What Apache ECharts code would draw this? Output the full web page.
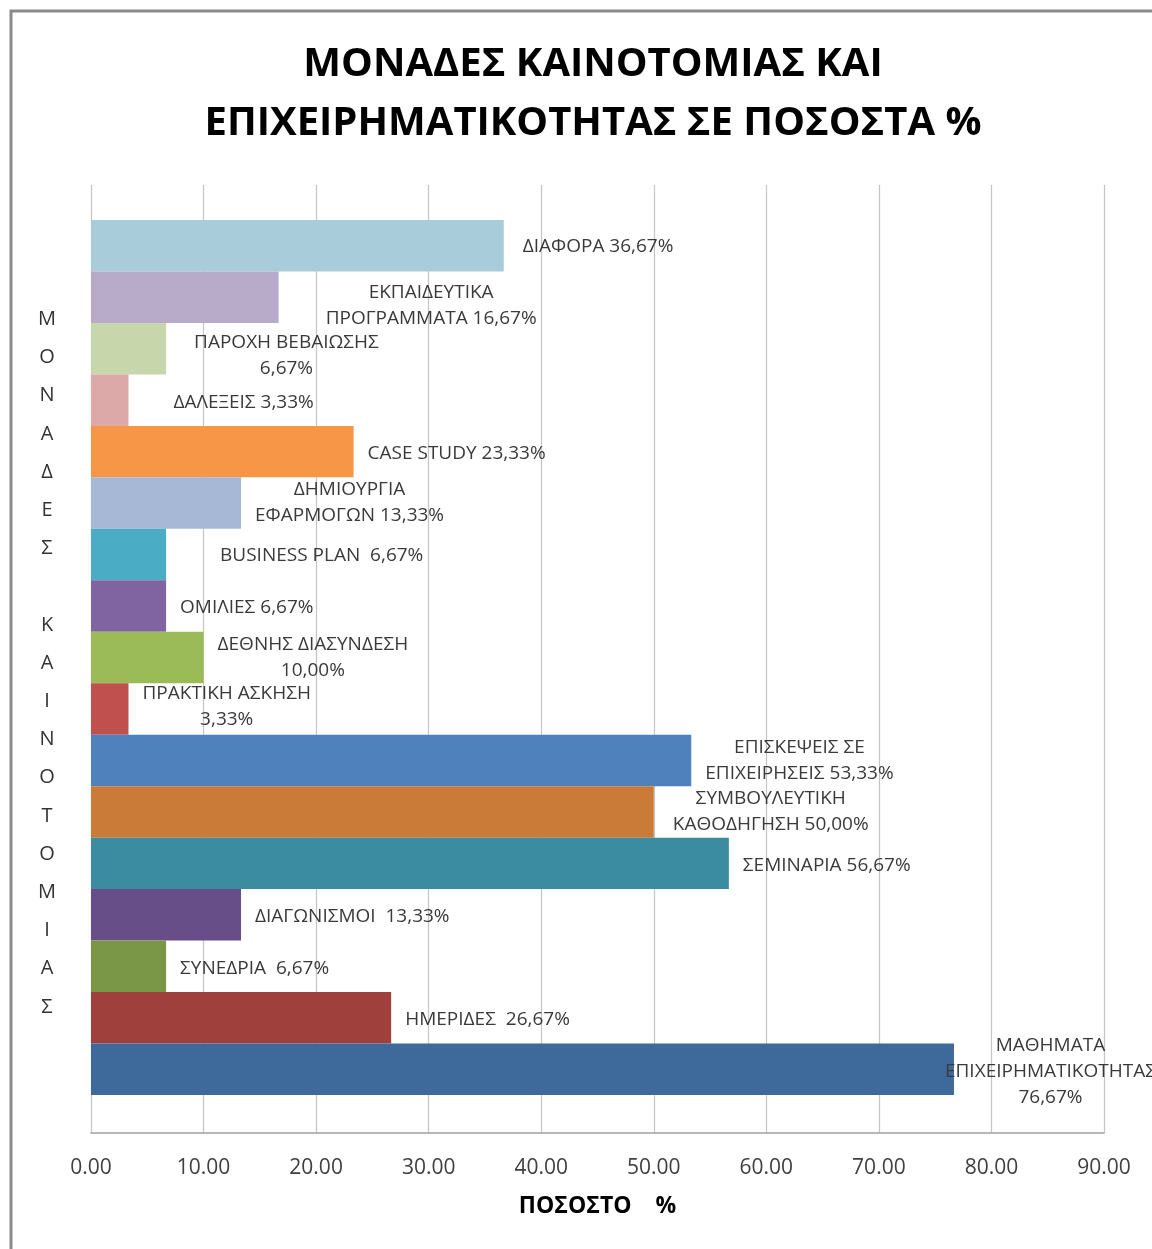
<!DOCTYPE html>
<html><head><meta charset="utf-8">
<script src="https://cdn.jsdelivr.net/npm/echarts@6/dist/echarts.min.js"></script>
<style>html,body{margin:0;padding:0;background:#fff}#c{width:1152px;height:1249px}</style>
</head><body><div id="c"></div>
<script>
// ---- data ----
const categories = [
  'ΔΙΑΦΟΡΑ', 'ΕΚΠΑΙΔΕΥΤΙΚΑ\nΠΡΟΓΡΑΜΜΑΤΑ', 'ΠΑΡΟΧΗ ΒΕΒΑΙΩΣΗΣ', 'ΔΑΛΕΞΕΙΣ', 'CASE STUDY',
  'ΔΗΜΙΟΥΡΓΙΑ\nΕΦΑΡΜΟΓΩΝ', 'BUSINESS PLAN', 'ΟΜΙΛΙΕΣ', 'ΔΕΘΝΗΣ ΔΙΑΣΥΝΔΕΣΗ', 'ΠΡΑΚΤΙΚΗ ΑΣΚΗΣΗ',
  'ΕΠΙΣΚΕΨΕΙΣ ΣΕ\nΕΠΙΧΕΙΡΗΣΕΙΣ', 'ΣΥΜΒΟΥΛΕΥΤΙΚΗ\nΚΑΘΟΔΗΓΗΣΗ', 'ΣΕΜΙΝΑΡΙΑ', 'ΔΙΑΓΩΝΙΣΜΟΙ', 'ΣΥΝΕΔΡΙΑ',
  'ΗΜΕΡΙΔΕΣ', 'ΜΑΘΗΜΑΤΑ\nΕΠΙΧΕΙΡΗΜΑΤΙΚΟΤΗΤΑΣ'
];
const values = [36.67, 16.67, 6.67, 3.33, 23.33, 13.33, 6.67, 6.67, 10.00, 3.33,
                53.33, 50.00, 56.67, 13.33, 6.67, 26.67, 76.67];
const labelSeparators = [' ', ' ', '\n', ' ', ' ', ' ', '  ', ' ', '\n', '\n',
                         ' ', ' ', ' ', '  ', '  ', '  ', '\n'];
const xTicks = [0, 10, 20, 30, 40, 50, 60, 70, 80, 90];
const titleText = 'ΜΟΝΑΔΕΣ ΚΑΙΝΟΤΟΜΙΑΣ ΚΑΙ\nΕΠΙΧΕΙΡΗΜΑΤΙΚΟΤΗΤΑΣ ΣΕ ΠΟΣΟΣΤΑ %';
const yAxisTitle = 'ΜΟΝΑΔΕΣ ΚΑΙΝΟΤΟΜΙΑΣ';
const xAxisTitle = 'ΠΟΣΟΣΤΟ    %';

// ---- styles ----
const barColors = ['#A8CCDA', '#B7ABC9', '#C8D6AB', '#DCA8A8', '#F79646', '#A7B8D6', '#4BACC6',
  '#8064A2', '#9BBB59', '#C0504D', '#4F81BD', '#CB7B38', '#3B8CA0', '#674E88', '#7A9747',
  '#9F403D', '#3D6A9B'];
const labelFont = '"Open Sans", "Noto Sans", sans-serif';
const labelSize = 19;
const baseDist = 14;
const labelNudge = { 0: [5, 1], 1: [33, 8], 2: [14, 7], 3: [31, 2], 4: [0, 2], 6: [40, 1], 7: [0, 2],
  9: [0, -2], 11: [5, 0], 12: [0, 2], 13: [0, 2], 14: [0, 2], 15: [0, 2], 16: [-23, 2] };

const cv = document.createElement('canvas').getContext('2d');
cv.font = labelSize + 'px "Open Sans"';
function pct(v) { return v.toFixed(2).replace('.', ',') + '%'; }

const barData = values.map((v, i) => {
  const text = categories[i] + labelSeparators[i] + pct(v);
  const w = Math.max(...text.split('\n').map(s => cv.measureText(s).width));
  const n = labelNudge[i] || [0, 0];
  return {
    value: v,
    itemStyle: { color: barColors[i] },
    label: {
      show: true, position: 'right', distance: baseDist + n[0], align: 'center',
      offset: [w / 2, n[1]], formatter: text
    }
  };
});

const chart = echarts.init(document.getElementById('c'), null, { renderer: 'canvas' });
chart.setOption({
  animation: false,
  backgroundColor: '#fff',
  title: {
    text: titleText, left: 588, top: 30, textAlign: 'center',
    textStyle: { fontFamily: labelFont, fontWeight: 'bold', fontSize: 40, lineHeight: 59, color: '#000' }
  },
  grid: [
    { left: 91, right: 48, top: 185, bottom: 116 },
    { left: 91, right: 48, top: 220, bottom: 154 }
  ],
  xAxis: [
    {
      gridIndex: 0, type: 'value', min: xTicks[0], max: xTicks[xTicks.length - 1],
      interval: xTicks[1] - xTicks[0],
      axisLine: { show: true, lineStyle: { color: '#A0A0A0', width: 1.5 } },
      axisTick: { show: false },
      splitLine: { show: true, lineStyle: { color: '#C4C4C4', width: 1.2 } },
      axisLabel: { formatter: v => v.toFixed(2), fontFamily: labelFont, fontSize: 21, color: '#404040', margin: 25 },
      name: xAxisTitle, nameLocation: 'middle', nameGap: 62,
      nameTextStyle: { fontFamily: labelFont, fontWeight: 'bold', fontSize: 23, color: '#000' }
    },
    {
      gridIndex: 1, type: 'value', min: xTicks[0], max: xTicks[xTicks.length - 1], show: false
    }
  ],
  yAxis: [
    { gridIndex: 0, type: 'value', show: false },
    { gridIndex: 1, type: 'category', data: categories, inverse: true, show: false }
  ],
  series: [{
    type: 'bar', xAxisIndex: 1, yAxisIndex: 1, data: barData, barCategoryGap: '0%',
    label: { fontFamily: labelFont, fontSize: labelSize, lineHeight: 26, color: '#3A3A3A' }
  }],
  graphic: [
    { type: 'rect', shape: { x: 11, y: 11, width: 1200, height: 1300 },
      style: { fill: 'none', stroke: '#8A8A8A', lineWidth: 3 }, silent: true },
    { type: 'text', x: 47, y: 663,
      style: { text: yAxisTitle.split('').join('\n'), fontFamily: labelFont, fontSize: 20,
        lineHeight: 38.2, fill: '#333', align: 'center', verticalAlign: 'middle' } }
  ]
});
</script></body></html>
